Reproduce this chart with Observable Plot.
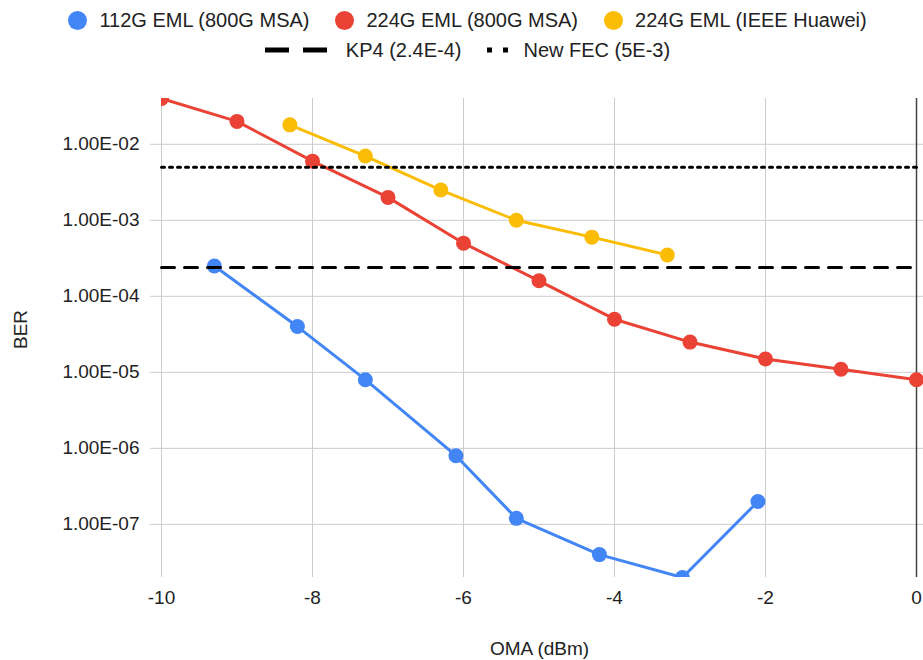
<!DOCTYPE html>
<html><head><meta charset="utf-8">
<script src="https://cdn.jsdelivr.net/npm/d3@7"></script>
<script src="https://cdn.jsdelivr.net/npm/@observablehq/plot@0.6"></script>
<style>
body{margin:0;background:#fff;font-family:"Liberation Sans",Arial,sans-serif;}
#wrap{width:923px;}
#legend{height:70px;position:relative;font-size:20px;color:#222;}
.row{position:absolute;left:0;right:0;height:24px;display:flex;justify-content:center;align-items:center;padding-left:12px;}
.item{display:flex;align-items:center;white-space:nowrap;}
.item + .item{margin-left:26px;}
.sw{margin-right:12px;display:block;}
</style></head>
<body><div id="wrap"><div id="legend"></div><div id="chart"></div></div>
<script>
// ---- data ----
const seriesNames = ["112G EML (800G MSA)", "224G EML (800G MSA)", "224G EML (IEEE Huawei)"];
const seriesColors = ["#4285F4", "#EA4335", "#FBBC04"];
const blueX = [-9.3, -8.2, -7.3, -6.1, -5.3, -4.2, -3.1, -2.1];
const blueY = [2.5e-4, 4e-5, 8e-6, 8e-7, 1.2e-7, 4e-8, 2e-8, 2e-7];
const redX = [-10, -9, -8, -7, -6, -5, -4, -3, -2, -1, 0];
const redY = [4e-2, 2e-2, 6e-3, 2e-3, 5e-4, 1.6e-4, 5e-5, 2.5e-5, 1.5e-5, 1.1e-5, 8e-6];
const yellowX = [-8.3, -7.3, -6.3, -5.3, -4.3, -3.3];
const yellowY = [1.8e-2, 7e-3, 2.5e-3, 1e-3, 6e-4, 3.5e-4];
const refNames = ["KP4 (2.4E-4)", "New FEC (5E-3)"];
const refValues = [2.4e-4, 5e-3];
const refX = [-10, 0];
const xTicks = [-10, -8, -6, -4, -2, 0];
const yTicks = [1e-2, 1e-3, 1e-4, 1e-5, 1e-6, 1e-7];
const xLabel = "OMA (dBm)";
const yLabel = "BER";

const seriesX = [blueX, redX, yellowX];
const seriesY = [blueY, redY, yellowY];
const series = seriesNames.map((name, i) => ({
  name, color: seriesColors[i],
  data: seriesX[i].map((x, j) => ({x, y: seriesY[i][j]}))
}));
const refs = refNames.map((name, i) => ({
  name, data: refX.map(x => ({x, y: refValues[i]}))
}));
const refDash = ["13 10", "3 5"];

// ---- legend ----
const legend = document.getElementById("legend");
const row1 = document.createElement("div"); row1.className = "row"; row1.style.top = "8px";
series.forEach(s => {
  const it = document.createElement("div"); it.className = "item";
  it.innerHTML = `<svg class="sw" width="19" height="19"><circle cx="9.5" cy="9.5" r="9.5" fill="${s.color}"/></svg><span>${s.name}</span>`;
  row1.appendChild(it);
});
const row2 = document.createElement("div"); row2.className = "row"; row2.style.top = "38px";
refs.forEach((r, i) => {
  const it = document.createElement("div"); it.className = "item";
  const sw = i === 0
    ? `<svg class="sw" width="62" height="6" style="margin-right:19px"><line x1="0" x2="62" y1="3" y2="3" stroke="#000" stroke-width="5" stroke-dasharray="24 14"/></svg>`
    : `<svg class="sw" width="21" height="6" style="margin-right:15px"><line x1="0" x2="21" y1="3" y2="3" stroke="#000" stroke-width="5" stroke-dasharray="5 11"/></svg>`;
  it.innerHTML = sw + `<span>${r.name}</span>`;
  row2.appendChild(it);
});
legend.appendChild(row1); legend.appendChild(row2);

// ---- chart ----
const fmt = d => "1.00E-" + String(-Math.round(Math.log10(d))).padStart(2, "0");
const marks = [
  Plot.gridY(yTicks, {stroke: "#ccc", strokeOpacity: 1}),
  Plot.gridX(xTicks.filter(d => d !== 0), {stroke: "#ccc", strokeOpacity: 1}),
  Plot.axisY(yTicks, {tickSize: 11, tickPadding: 11, stroke: "#ccc", fill: "#222", tickFormat: fmt, label: null}),
  Plot.axisX(xTicks, {tickSize: 0, tickPadding: 13, fill: "#222", tickFormat: d => String(d), label: null}),
  Plot.ruleX([0], {stroke: "#444", strokeWidth: 1.5}),
  Plot.text([xLabel], {text: d => d, frameAnchor: "bottom", dy: 71, dx: -3, lineAnchor: "middle", fill: "#222"}),
  Plot.text([yLabel], {text: d => d, frameAnchor: "left", dx: -141, dy: 11, rotate: -90, lineAnchor: "middle", fill: "#222"})
];
series.forEach(s => {
  marks.push(Plot.line(s.data, {x: "x", y: "y", stroke: s.color, strokeWidth: 3, clip: "frame"}));
  marks.push(Plot.dot(s.data, {x: "x", y: "y", r: 7.5, fill: s.color, clip: "frame"}));
});
refs.forEach((r, i) => {
  marks.push(Plot.line(r.data, {x: "x", y: "y", stroke: "#000", strokeWidth: 3, strokeDasharray: refDash[i]}));
});

const chart = Plot.plot({
  width: 923, height: 590,
  marginTop: 28, marginBottom: 83, marginLeft: 161, marginRight: 0,
  style: {fontFamily: "'Liberation Sans', Arial, sans-serif", fontSize: "19px", color: "#222", background: "#fff"},
  x: {domain: [-10, 0.0927], ticks: xTicks},
  y: {type: "log", domain: [2e-8, 4e-2]},
  marks
});
document.getElementById("chart").appendChild(chart);
</script>
</body></html>
